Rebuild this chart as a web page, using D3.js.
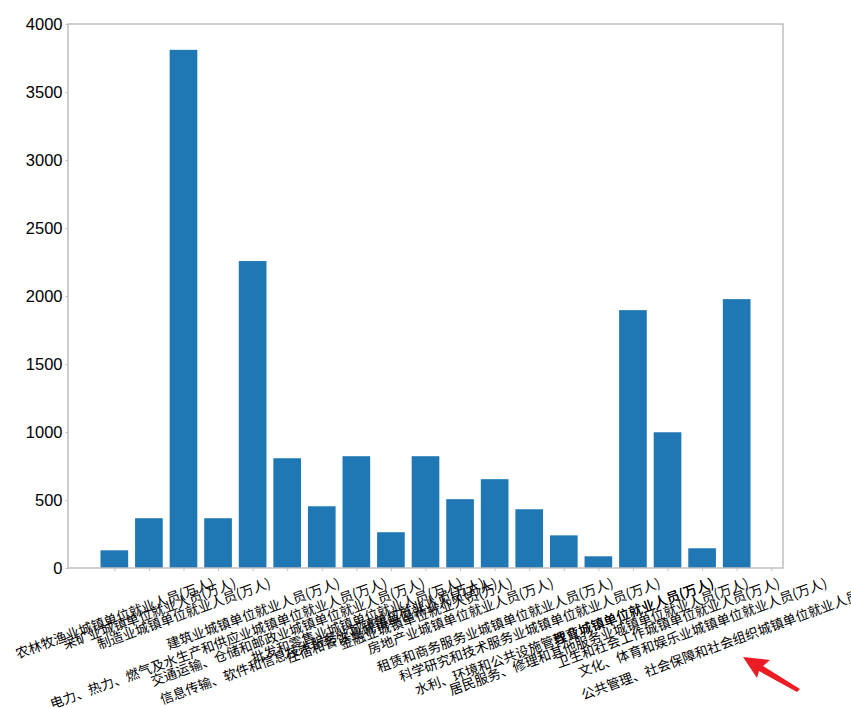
<html>
<head>
  <script src="https://d3js.org/d3.v7.min.js"></script>
  <style>
    body { margin: 0; background: #fff; }
    .axisGray line, .axisGray path { stroke: #bfbfbf; }
    .axisGray text { fill: #000; font-family: "Liberation Sans", Arial, sans-serif; font-size: 16.5px; }
    .xlab { font-family: "Noto Sans CJK SC", sans-serif; font-size: 13.4px; fill: #000; }
  </style>
</head>
<body>
<div id="my_dataviz"></div>
<script type="text/javascript">

  // data
  var categories = [
    "农林牧渔业城镇单位就业人员(万人)",
    "采矿业城镇单位就业人员(万人)",
    "制造业城镇单位就业人员(万人)",
    "电力、热力、燃气及水生产和供应业城镇单位就业人员(万人)",
    "建筑业城镇单位就业人员(万人)",
    "交通运输、仓储和邮政业城镇单位就业人员(万人)",
    "信息传输、软件和信息技术服务业城镇单位就业人员(万人)",
    "批发和零售业城镇单位就业人员(万人)",
    "住宿和餐饮业城镇单位就业人员(万人)",
    "金融业城镇单位就业人员(万人)",
    "房地产业城镇单位就业人员(万人)",
    "租赁和商务服务业城镇单位就业人员(万人)",
    "科学研究和技术服务业城镇单位就业人员(万人)",
    "水利、环境和公共设施管理业城镇单位就业人员(万人)",
    "居民服务、修理和其他服务业城镇单位就业人员(万人)",
    "教育城镇单位就业人员(万人)",
    "卫生和社会工作城镇单位就业人员(万人)",
    "文化、体育和娱乐业城镇单位就业人员(万人)",
    "公共管理、社会保障和社会组织城镇单位就业人员(万人)"
  ];
  var values = [130, 366, 3810, 366, 2257, 807, 454, 822, 263, 822, 506, 653, 432, 240, 86, 1896, 998, 145, 1977];
  var yTicks = [0, 500, 1000, 1500, 2000, 2500, 3000, 3500, 4000];

  var margin = { top: 24, right: 68, bottom: 140, left: 68 },
    width = 851 - margin.left - margin.right,
    height = 708 - margin.top - margin.bottom;

  var svg = d3.select("#my_dataviz")
    .append("svg")
    .attr("width", 851)
    .attr("height", 708)
    .append("g")
    .attr("transform", "translate(" + margin.left + "," + margin.top + ")");

  // x: bar index, matplotlib-like margins
  var x = d3.scaleLinear()
    .domain([-1.34, 19.34])
    .range([0, width]);
  var y = d3.scaleLinear()
    .domain([0, 4000])
    .range([height, 0]);

  // bars
  var bw = x(0.8) - x(0);
  svg.append("g")
    .selectAll("rect")
    .data(values)
    .enter()
    .append("rect")
    .attr("x", function (d, i) { return x(i) - bw / 2; })
    .attr("y", function (d) { return y(d); })
    .attr("width", bw)
    .attr("height", function (d) { return y(0) - y(d); })
    .style("fill", "#1f77b4");

  // frame
  svg.append("rect")
    .attr("width", width)
    .attr("height", height)
    .style("fill", "none")
    .style("stroke", "#bfbfbf")
    .style("stroke-width", 1.5);

  svg.append("g")
    .attr("class", "axisGray")
    .call(d3.axisLeft(y).tickValues(yTicks).tickFormat(d3.format("d")).tickSize(2.5).tickPadding(3))
    .call(function (g) { g.select(".domain").remove(); });

  svg.append("g")
    .attr("class", "axisGray")
    .attr("transform", "translate(0," + height + ")")
    .call(d3.axisBottom(x).tickValues(d3.range(20)).tickFormat("").tickSize(3))
    .call(function (g) { g.select(".domain").remove(); });

  // rotated x labels, bbox centred on tick
  var ang = 20 * Math.PI / 180, fs = 13.4, labTop = height + 7;
  svg.append("g")
    .selectAll("text")
    .data(categories)
    .enter()
    .append("text")
    .attr("class", "xlab")
    .attr("text-anchor", "middle")
    .attr("dominant-baseline", "central")
    .text(function (d) { return d; })
    .attr("transform", function (d, i) {
      var w = this.getComputedTextLength();
      var h = w * Math.sin(ang) + fs * Math.cos(ang);
      return "translate(" + x(i) + "," + (labTop + h / 2) + ") rotate(-20)";
    });

  // red arrow annotation
  d3.select("svg").append("path")
    .attr("d", "M743,657 L770,660 L763,666 L800,689 L797,692 L759,671 L757,678 Z")
    .style("fill", "#ec1c24");

</script>
</body>
</html>
